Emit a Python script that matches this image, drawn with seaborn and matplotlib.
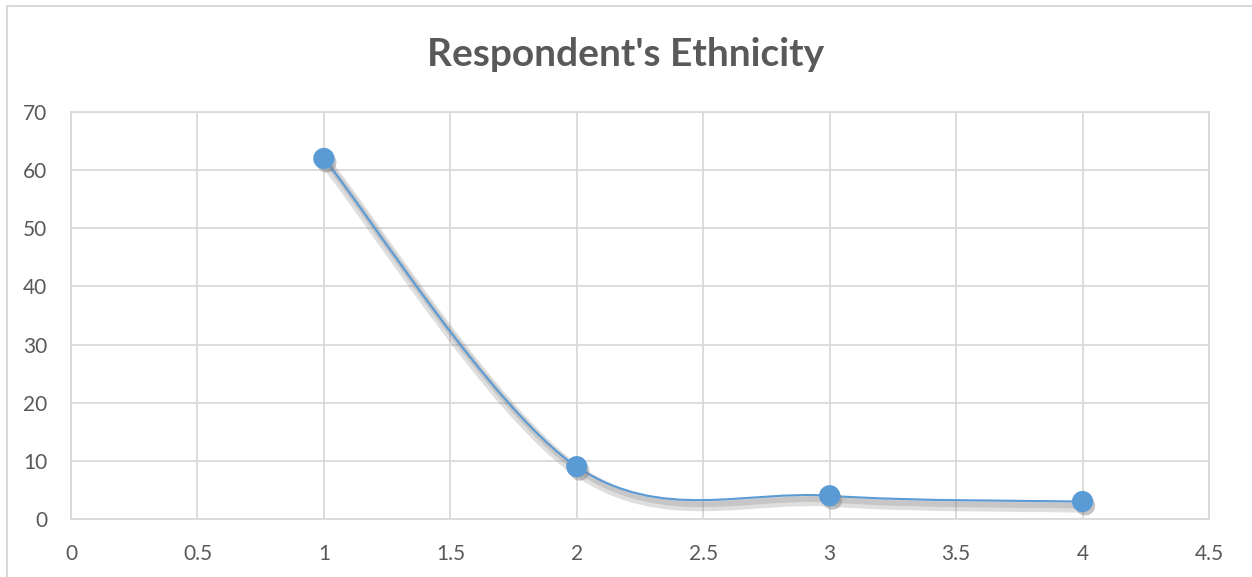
import numpy as np
import pandas as pd
import matplotlib
matplotlib.use("Agg")
import matplotlib.pyplot as plt
import matplotlib.patheffects as pe
from matplotlib.path import Path
from matplotlib.patches import PathPatch, Rectangle
import seaborn as sns

# data
ethnicity_code = [1, 2, 3, 4]
respondents = [62, 9, 4, 3]
x_ticks = [0, 0.5, 1, 1.5, 2, 2.5, 3, 3.5, 4, 4.5]
y_ticks = [0, 10, 20, 30, 40, 50, 60, 70]

df = pd.DataFrame({"code": ethnicity_code, "count": respondents})

sns.set_style("white")
plt.rcParams["font.family"] = ["Lato", "DejaVu Sans"]

line_color = "#5B9BD5"
grid_color = "#D9D9D9"
text_color = "#595959"

fig = plt.figure(figsize=(12.52, 5.77), dpi=100)
ax = fig.add_axes([71 / 1252, 1 - 519 / 577, (1209 - 71) / 1252, (519 - 112) / 577])

# outer chart border
fig.patches.append(Rectangle((7 / 1252, -0.1), 1.2, 1.1 - 6 / 577, transform=fig.transFigure,
                             fill=False, edgecolor=grid_color, linewidth=1.5, zorder=0))

# smoothed line, Excel style (Catmull-Rom bezier segments)
pts = df[["code", "count"]].to_numpy(dtype=float)
verts = [pts[0]]
codes = [Path.MOVETO]
n = len(pts)
for i in range(n - 1):
    p_prev = pts[i - 1] if i > 0 else pts[i]
    p_next2 = pts[i + 2] if i + 2 < n else pts[i + 1]
    c1 = pts[i] + (pts[i + 1] - p_prev) / 6
    c2 = pts[i + 1] - (p_next2 - pts[i]) / 6
    verts += [c1, c2, pts[i + 1]]
    codes += [Path.CURVE4] * 3
shadow = [pe.SimpleLineShadow(offset=(2, -4), shadow_color="#7f7f7f", alpha=0.25, linewidth=8),
          pe.SimpleLineShadow(offset=(2, -3), shadow_color="#7f7f7f", alpha=0.25, linewidth=4),
          pe.Normal()]
curve = PathPatch(Path(verts, codes), fill=False, edgecolor=line_color, linewidth=1.5, zorder=3)
curve.set_path_effects(shadow)
ax.add_patch(curve)

sns.scatterplot(data=df, x="code", y="count", ax=ax, s=200, color=line_color,
                edgecolor=line_color, zorder=4, legend=False)
for coll in ax.collections:
    coll.set_path_effects([pe.SimplePatchShadow(offset=(2, -3), shadow_rgbFace="#7f7f7f", alpha=0.45), pe.Normal()])

ax.set_xlim(0, 4.5)
ax.set_ylim(0, 70)
ax.set_xticks(x_ticks)
ax.set_yticks(y_ticks)
ax.set_xticklabels([f"{t:g}" for t in x_ticks])
ax.set_yticklabels([f"{t:g}" for t in y_ticks])
ax.grid(True, color=grid_color, linewidth=1.3)
ax.set_axisbelow(True)
for s in ax.spines.values():
    s.set_color(grid_color)
    s.set_linewidth(1.3)
ax.tick_params(axis="both", length=0, labelsize=15, labelcolor=text_color)
ax.tick_params(axis="x", pad=18)
ax.tick_params(axis="y", pad=17)
ax.set_xlabel("")
ax.set_ylabel("")

fig.text(0.5, 1 - 55 / 577, "Respondent's Ethnicity", ha="center", va="center",
         fontsize=28, fontweight="bold", color=text_color)

fig.savefig("out.png", dpi=100)
